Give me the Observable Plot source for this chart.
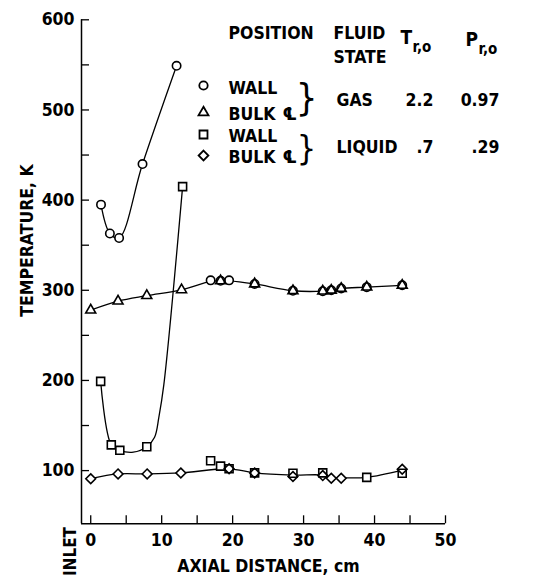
<!DOCTYPE html>
<html><head><meta charset="utf-8">
<script src="https://cdn.jsdelivr.net/npm/d3@7"></script>
<script src="https://cdn.jsdelivr.net/npm/@observablehq/plot@0.6"></script>
<style>
html,body{margin:0;padding:0;background:#fff;}
</style></head><body><div id="chart"></div>
<script>
// ---- data ----
// Gas (circles = wall, triangles = bulk centerline)
const gasWallX = [1.45, 2.7, 4.0, 7.3, 12.1, 16.9, 18.3, 19.5, 23.1, 28.5, 32.7, 33.9, 35.3, 38.9, 43.9];
const gasWallT = [395, 363, 358, 440, 549, 311, 310.5, 311, 307, 299.5, 299, 300, 302, 303.5, 305.5];
const gasBulkX = [0, 3.85, 7.9, 12.8, 18.3, 23.1, 28.5, 32.7, 33.9, 35.3, 38.9, 43.9];
const gasBulkT = [278, 288, 294, 300.5, 310.5, 307, 299.5, 299, 300, 302, 303.5, 305.5];
// Liquid (squares = wall, diamonds = bulk centerline)
const liqWallX = [1.4, 2.9, 4.1, 7.9, 12.95, 16.9, 18.3, 19.5, 23.1, 28.5, 32.7, 38.9, 43.9];
const liqWallT = [199, 128.5, 122.5, 126.5, 415, 111, 105, 102, 97.5, 97, 97.5, 92.5, 97];
const liqBulkX = [0, 3.85, 7.95, 12.7, 19.5, 23.1, 28.5, 32.7, 33.9, 35.3, 43.9];
const liqBulkT = [91, 96.3, 96.3, 97.4, 102, 97.4, 93.5, 94.5, 91.5, 91.5, 101.5];

// faired curves drawn through the points
const gasWallCurveX = [1.45, 2.7, 4.0, 7.3, 12.1];
const gasWallCurveT = [395, 363, 358, 440, 549];
const gasBulkCurveX = [0, 3.85, 7.9, 12.8, 16.9, 18.3, 19.5, 23.1, 28.5, 32.7, 33.9, 35.3, 38.9, 43.9];
const gasBulkCurveT = [278, 288, 294, 300.5, 310, 310.5, 310.5, 307, 299.5, 299, 300, 302, 303.5, 305.5];
const liqWallCurveX = [1.4, 2.9, 4.1, 6.0, 7.9, 9.0, 9.6, 10.3, 12.95];
const liqWallCurveT = [199, 128.5, 122.5, 120.5, 126.5, 137, 159, 195, 415];
const liqBulkCurveX = [0, 3.85, 7.95, 12.7, 19.5, 23.1, 28.5, 32.7, 33.9, 35.3, 38.9, 43.9];
const liqBulkCurveT = [91, 96.3, 96.3, 97.4, 102, 97.4, 95, 95, 92, 92, 92.5, 100.5];

// axes
const xDomain = [-1.3, 50];
const yDomain = [41, 600];
const xTickLabels = [0, 10, 20, 30, 40, 50];
const xTickMarks = [0, 5, 10, 15, 20, 25, 30, 35, 40, 45, 50];
const yTickLabels = [100, 200, 300, 400, 500, 600];
const yTickMarks = [100, 150, 200, 250, 300, 350, 400, 450, 500, 550, 600];

// legend / table text
const positionLabels = ["WALL", "BULK", "WALL", "BULK"];
const positionSymbols = ["circle", "triangle", "square", "diamond2"];
const fluidStates = ["GAS", "LIQUID"];
const reducedT = ["2.2", ".7"];
const reducedP = ["0.97", ".29"];

// ---- drawing ----
const FONT = '"DejaVu Sans Condensed", "Liberation Sans Narrow", "Arial Narrow", sans-serif';
const W = 536, H = 580, ML = 81, MR = 91, MT = 19.3, MB = 56.7;
const pts = (xs, ts) => xs.map((x, i) => ({x, t: ts[i]}));
const at = (x, y) => ({frameAnchor: "top-left", dx: x - ML, dy: y - MT});
const txt = (s, x, y, o = {}) => Plot.text([s], {text: d => d, ...at(x, y), textAnchor: "start", lineAnchor: "bottom", fontSize: 17.5, fill: "black", ...o});

const series = [
  {data: pts(gasWallX, gasWallT), symbol: "circle", r: 4.2},
  {data: pts(gasBulkX, gasBulkT), symbol: "triangle", r: 3.7},
  {data: pts(liqWallX, liqWallT), symbol: "square", r: 4.5},
  {data: pts(liqBulkX, liqBulkT), symbol: "diamond2", r: 4.4}
];
const curves = [
  pts(gasWallCurveX, gasWallCurveT), pts(gasBulkCurveX, gasBulkCurveT),
  pts(liqWallCurveX, liqWallCurveT), pts(liqBulkCurveX, liqBulkCurveT)
];

const marks = [];
// axes lines
marks.push(Plot.ruleX([xDomain[0]], {stroke: "black", strokeWidth: 1.5}));
marks.push(Plot.ruleY([yDomain[0]], {stroke: "black", strokeWidth: 1.5}));
// inward ticks
marks.push(Plot.axisX(xTickMarks, {tickSize: 8, dy: -8, fill: "none", stroke: "black", strokeWidth: 1.3, label: null}));
marks.push(Plot.axisY(yTickMarks, {tickSize: 8, dx: 8, fill: "none", stroke: "black", strokeWidth: 1.3, label: null}));
// tick labels
marks.push(Plot.axisX(xTickLabels, {tickSize: 0, tickPadding: 10, fontSize: 17.5, fill: "black", label: null}));
marks.push(Plot.axisY(yTickLabels, {tickSize: 0, tickPadding: 7, fontSize: 17.5, fill: "black", label: null}));
// curves
for (const c of curves) marks.push(Plot.line(c, {x: "x", y: "t", curve: "catmull-rom", stroke: "black", strokeWidth: 1.3}));
// marker fills then outlines
for (const s of series) marks.push(Plot.dot(s.data, {x: "x", y: "t", symbol: s.symbol, r: s.r, fill: "white", stroke: "none"}));
for (const s of series) marks.push(Plot.dot(s.data, {x: "x", y: "t", symbol: s.symbol, r: s.r, fill: "none", stroke: "black", strokeWidth: 1.6}));

// axis titles
marks.push(Plot.text(["AXIAL DISTANCE, cm"], {text: d => d, ...at(268, 571), textAnchor: "middle", lineAnchor: "bottom", fontSize: 17.5, fill: "black"}));
marks.push(Plot.text(["TEMPERATURE, K"], {text: d => d, ...at(27, 240), rotate: -90, textAnchor: "middle", lineAnchor: "middle", fontSize: 17.5, fill: "black"}));
marks.push(Plot.text(["INLET"], {text: d => d, ...at(70, 551), rotate: -90, textAnchor: "middle", lineAnchor: "middle", fontSize: 17, fill: "black"}));

// legend headers
marks.push(txt("POSITION", 228, 38));
marks.push(txt("FLUID", 333, 38));
marks.push(txt("STATE", 333, 62));
marks.push(txt("T", 400, 43, {fontSize: 19}));
marks.push(txt("r,o", 412, 51, {fontSize: 15}));
marks.push(txt("P", 465, 45, {fontSize: 19}));
marks.push(txt("r,o", 478, 53, {fontSize: 15}));
// legend rows
const rowCenters = [85, 112, 134, 155];
const rowBaselines = [93, 119, 141, 162];
positionLabels.forEach((lab, i) => {
  marks.push(Plot.dot([0], {...at(203, rowCenters[i]), symbol: positionSymbols[i], r: series[i].r, fill: "white", stroke: "black", strokeWidth: 1.8}));
  marks.push(txt(lab, 228, rowBaselines[i]));
  if (lab === "BULK") marks.push(txt("\u2104", 282, rowBaselines[i], {fontSize: 18}));
});
// braces
marks.push(txt("}", 306, 97, {lineAnchor: "middle", textAnchor: "middle", fontSize: 38, fontWeight: "normal"}));
marks.push(txt("}", 306, 149, {lineAnchor: "middle", textAnchor: "middle", fontSize: 34, fontWeight: "normal"}));
// fluid table
const tableBaselines = [105, 152];
fluidStates.forEach((f, i) => {
  marks.push(txt(f, 336, tableBaselines[i]));
  marks.push(txt(reducedT[i], 433, tableBaselines[i], {textAnchor: "end"}));
  marks.push(txt(reducedP[i], 499, tableBaselines[i], {textAnchor: "end"}));
});

const chart = Plot.plot({
  width: W, height: H,
  marginLeft: ML, marginRight: MR, marginTop: MT, marginBottom: MB,
  x: {domain: xDomain},
  y: {domain: yDomain},
  style: {fontFamily: FONT, fontWeight: "bold", background: "white", color: "black", overflow: "visible"},
  marks
});
document.getElementById("chart").appendChild(chart);
</script>
</body></html>
